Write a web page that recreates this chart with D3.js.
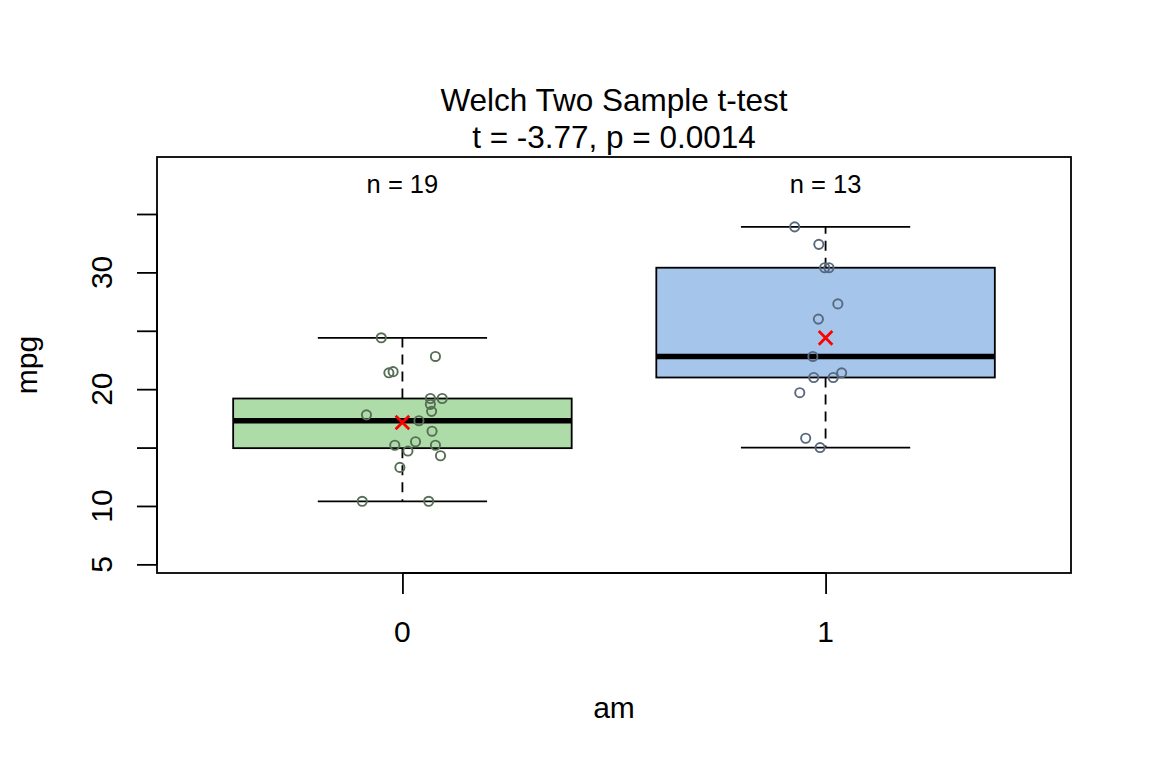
<!DOCTYPE html>
<html>
<head>
<meta charset="utf-8">
<script src="https://cdn.jsdelivr.net/npm/d3@7"></script>
<style>
  html, body { margin: 0; padding: 0; background: #fff; }
  svg text { font-family: "Liberation Sans", Arial, Helvetica, sans-serif; fill: #000; }
</style>
</head>
<body>
<svg id="chart" width="1152" height="768"></svg>
<script>
// ---- data (mtcars: mpg by am) ----
const categories = ["0", "1"];
const mpgAm0 = [21.4, 18.7, 18.1, 14.3, 24.4, 22.8, 19.2, 17.8, 16.4, 17.3, 15.2, 10.4, 10.4, 14.7, 21.5, 15.5, 15.2, 13.3, 19.2];
const jitterAm0 = [-0.032, 0.066, 0.069, 0.090, -0.050, 0.078, 0.066, -0.085, 0.070, 0.039, -0.018, -0.095, 0.062, 0.013, -0.022, 0.031, 0.078, -0.006, 0.094];
const mpgAm1 = [21.0, 21.0, 22.8, 32.4, 30.4, 33.9, 27.3, 26.0, 30.4, 15.8, 19.7, 15.0, 21.4];
const jitterAm1 = [-0.028, 0.018, -0.030, -0.016, -0.002, -0.073, 0.029, -0.017, 0.008, -0.047, -0.061, -0.013, 0.038];
const yTicks = [5, 10, 15, 20, 25, 30, 35];
const yTickLabels = ["5", "10", "", "20", "", "30", ""];
const titleLines = ["Welch Two Sample t-test", "t = -3.77, p = 0.0014"];
const xLabel = "am";
const yLabel = "mpg";
const boxFills = ["#ADDCA8", "#A5C5EA"];
const pointColors = ["#566E56", "#58697F"];

const groups = [mpgAm0, mpgAm1];
const jitters = [jitterAm0, jitterAm1];

// Tukey five-number summary (as R's fivenum / boxplot)
function fivenum(arr) {
  const x = arr.slice().sort((a, b) => a - b);
  const n = x.length;
  const n4 = Math.floor((n + 3) / 2) / 2;
  const d = [1, n4, (n + 1) / 2, n + 1 - n4, n];
  return d.map(v => 0.5 * (x[Math.floor(v) - 1] + x[Math.ceil(v) - 1]));
}
function boxStats(arr) {
  const f = fivenum(arr);
  const iqr = f[3] - f[1];
  const lo = d3.min(arr.filter(v => v >= f[1] - 1.5 * iqr));
  const hi = d3.max(arr.filter(v => v <= f[3] + 1.5 * iqr));
  return { lo, q1: f[1], med: f[2], q3: f[3], hi, mean: d3.mean(arr), n: arr.length };
}

// ---- layout ----
const svg = d3.select("#chart");
const L = 157, R = 1071, T = 157, B = 573;

const x = d3.scaleLinear().domain([0.42, 2.58]).range([L, R]);
const y = d3.scaleLinear().domain([4.26, 39.88]).range([B, T]);

const g = svg.append("g");

// boxes
groups.forEach((vals, i) => {
  const s = boxStats(vals);
  const cx = i + 1;
  // dashed whiskers
  g.append("line").attr("x1", x(cx)).attr("x2", x(cx)).attr("y1", y(s.q3)).attr("y2", y(s.hi))
    .attr("stroke", "#000").attr("stroke-width", 1.8).attr("stroke-dasharray", "10,7");
  g.append("line").attr("x1", x(cx)).attr("x2", x(cx)).attr("y1", y(s.q1)).attr("y2", y(s.lo))
    .attr("stroke", "#000").attr("stroke-width", 1.8).attr("stroke-dasharray", "10,7");
  // staples
  [s.lo, s.hi].forEach(v => {
    g.append("line").attr("x1", x(cx - 0.2)).attr("x2", x(cx + 0.2)).attr("y1", y(v)).attr("y2", y(v))
      .attr("stroke", "#000").attr("stroke-width", 1.8);
  });
  // box
  g.append("rect").attr("x", x(cx - 0.4)).attr("width", x(cx + 0.4) - x(cx - 0.4))
    .attr("y", y(s.q3)).attr("height", y(s.q1) - y(s.q3))
    .attr("fill", boxFills[i]).attr("stroke", "#000").attr("stroke-width", 1.8);
  // median
  g.append("line").attr("x1", x(cx - 0.4)).attr("x2", x(cx + 0.4)).attr("y1", y(s.med)).attr("y2", y(s.med))
    .attr("stroke", "#000").attr("stroke-width", 5.5);
  // n label
  g.append("text").attr("x", x(cx)).attr("y", 193).attr("text-anchor", "middle")
    .attr("font-size", 25.5).text("n = " + s.n);
});

// points
groups.forEach((vals, i) => {
  g.selectAll(null).data(vals.map((v, k) => ({ v, j: jitters[i][k] }))).enter()
    .append("circle")
    .attr("cx", d => x(i + 1 + d.j)).attr("cy", d => y(d.v)).attr("r", 4.6)
    .attr("fill", "none").attr("stroke", pointColors[i]).attr("stroke-width", 1.9);
});

// means
groups.forEach((vals, i) => {
  const m = d3.mean(vals);
  const px = x(i + 1), py = y(m), h = 6.8;
  g.append("path").attr("d", `M${px - h},${py - h}L${px + h},${py + h}M${px - h},${py + h}L${px + h},${py - h}`)
    .attr("stroke", "#FF0000").attr("stroke-width", 2.8).attr("fill", "none");
});

// plot frame
svg.append("rect").attr("x", L).attr("y", T).attr("width", R - L).attr("height", B - T)
  .attr("fill", "none").attr("stroke", "#000").attr("stroke-width", 1.8);

// y axis
const yAxis = d3.axisLeft(y).tickValues(yTicks).tickSize(20).tickPadding(0).tickFormat(() => "");
const ya = svg.append("g").attr("transform", `translate(${L},0)`).call(yAxis);
ya.select(".domain").attr("d", `M0,${y(5)}V${y(35)}`).attr("stroke", "#000").attr("stroke-width", 1.8);
ya.selectAll(".tick line").attr("stroke", "#000").attr("stroke-width", 1.8);
yTicks.forEach((t, k) => {
  if (!yTickLabels[k]) return;
  svg.append("text").attr("transform", `translate(112,${y(t)}) rotate(-90)`)
    .attr("text-anchor", "middle").attr("font-size", 30).text(yTickLabels[k]);
});

// x axis
const xAxis = d3.axisBottom(x).tickValues([1, 2]).tickSize(21).tickFormat(() => "");
const xa = svg.append("g").attr("transform", `translate(0,${B})`).call(xAxis);
xa.select(".domain").attr("d", `M${x(1)},0H${x(2)}`).attr("stroke", "#000").attr("stroke-width", 1.8);
xa.selectAll(".tick line").attr("stroke", "#000").attr("stroke-width", 1.8);
categories.forEach((c, k) => {
  svg.append("text").attr("x", x(k + 1)).attr("y", 642).attr("text-anchor", "middle")
    .attr("font-size", 30).text(c);
});

// axis titles
svg.append("text").attr("x", (L + R) / 2).attr("y", 718).attr("text-anchor", "middle")
  .attr("font-size", 30).text(xLabel);
svg.append("text").attr("transform", `translate(37,${(T + B) / 2}) rotate(-90)`)
  .attr("text-anchor", "middle").attr("font-size", 30).text(yLabel);

// title
titleLines.forEach((t, k) => {
  svg.append("text").attr("x", (L + R) / 2).attr("y", 111 + k * 37).attr("text-anchor", "middle")
    .attr("font-size", 31.5).text(t);
});
</script>
</body>
</html>
